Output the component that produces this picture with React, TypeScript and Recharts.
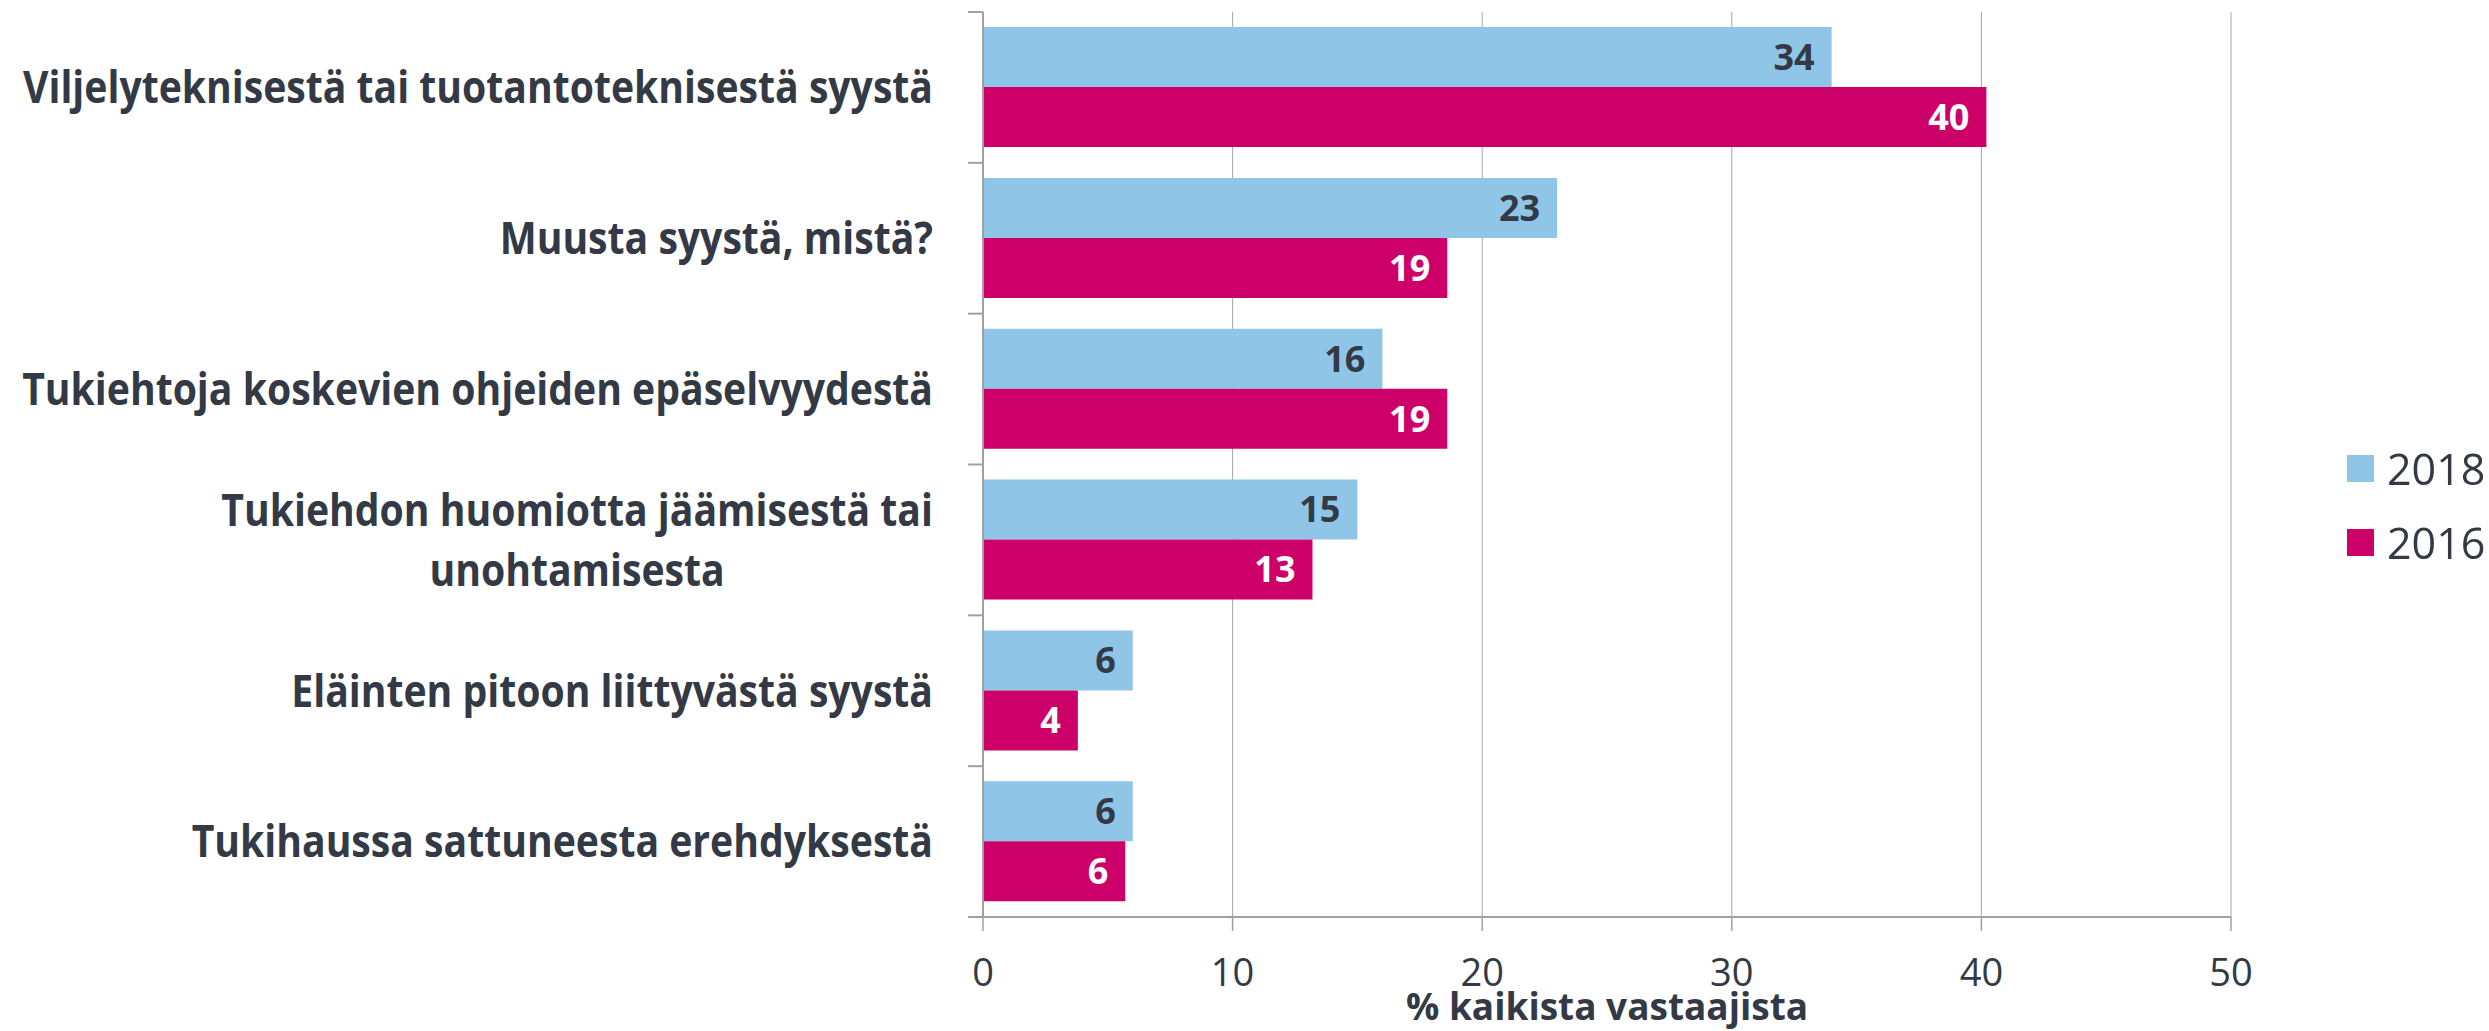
import React from "react";
import {
  Bar,
  BarChart,
  CartesianGrid,
  Label,
  LabelList,
  Legend,
  XAxis,
  YAxis,
} from "recharts";

const categories = [
  "Viljelyteknisestä tai tuotantoteknisestä syystä",
  "Muusta syystä, mistä?",
  "Tukiehtoja koskevien ohjeiden epäselvyydestä",
  "Tukiehdon huomiotta jäämisestä tai\nunohtamisesta",
  "Eläinten pitoon liittyvästä syystä",
  "Tukihaussa sattuneesta erehdyksestä",
];
const values2018 = [34, 23, 16, 15, 6, 6];
const values2016 = [40.2, 18.6, 18.6, 13.2, 3.8, 5.7];
const seriesNames = ["2018", "2016"];
const xTicks = [0, 10, 20, 30, 40, 50];
const axisTitle = "% kaikista vastaajista";

const W = 2489;
const H = 1031;
const TOP = 12;
const BOTTOM = 917;
const LEFT = 983;
const RIGHT = 2231;
const BAND = (BOTTOM - TOP) / categories.length;

const FONT = "'Open Sans', sans-serif";
const TEXT = "#333a45";
const AXIS = "#a0a0a0";
const BLUE = "#8fc6e7";
const MAGENTA = "#cd006a";

const data = categories.map((name, i) => ({
  name,
  v2018: values2018[i],
  v2016: values2016[i],
}));

let ctx: CanvasRenderingContext2D | null = null;
const measure = (s: string, font: string) => {
  if (!ctx) ctx = document.createElement("canvas").getContext("2d");
  if (!ctx) return s.length * 20;
  ctx.font = font;
  return ctx.measureText(s).width;
};

// kategorian nimi oikealle tasattuna, rivitetyt rivit keskitetään keskenään
// alkuperäisen fontti on kapeampi, joten teksti puristetaan vaakasuunnassa
const CategoryTick = (props: any) => {
  const { x, y, payload, index } = props;
  const lines: string[] = String(payload.value).split("\n");
  const fontSize = 44;
  const sx = 0.89;
  const font = `bold ${fontSize}px 'Open Sans'`;
  const widest = Math.max(...lines.map((l) => measure(l, font)));
  const lh = 60;
  const axisX = x + 35 + 15;
  const multi = lines.length > 1;
  return (
    <g>
      <line x1={axisX - 15} x2={axisX} y1={y - BAND / 2} y2={y - BAND / 2} stroke={AXIS} strokeWidth={2} />
      {index === categories.length - 1 && (
        <line x1={axisX - 15} x2={axisX} y1={y + BAND / 2} y2={y + BAND / 2} stroke={AXIS} strokeWidth={2} />
      )}
      <g transform={`translate(${x},0) scale(${sx},1)`}>
        {lines.map((l, i) => (
          <text
            key={i}
            x={multi ? -widest / 2 : 0}
            y={y + (i - (lines.length - 1) / 2) * lh}
            dy="0.36em"
            textAnchor={multi ? "middle" : "end"}
            fill={TEXT}
            fontSize={fontSize}
            fontWeight="bold"
            fontFamily={FONT}
          >
            {l}
          </text>
        ))}
      </g>
    </g>
  );
};

const AxisTitle = (props: any) => {
  const vb = props.viewBox;
  return (
    <text
      x={vb.x + vb.width / 2}
      y={vb.y + vb.height - 11}
      textAnchor="middle"
      fill={TEXT}
      fontSize={37}
      fontWeight="bold"
      fontFamily={FONT}
    >
      {axisTitle}
    </text>
  );
};

const LegendContent = (props: any) => {
  const items = [...(props.payload || [])].sort(
    (a: any, b: any) => seriesNames.indexOf(a.value) - seriesNames.indexOf(b.value)
  );
  return (
    <div>
      {items.map((p: any) => (
        <div key={p.value} style={{ display: "flex", alignItems: "center", height: 74 }}>
          <div style={{ width: 27, height: 27, background: p.color, marginRight: 13 }} />
          <span style={{ fontFamily: FONT, fontSize: 43, lineHeight: 1, color: TEXT }}>{p.value}</span>
        </div>
      ))}
    </div>
  );
};

export default function App() {
  return (
    <div style={{ position: "fixed", left: 0, top: 0, width: W, height: H, background: "#fff" }}>
      <BarChart
        layout="vertical"
        width={W}
        height={H}
        data={data}
        margin={{ top: TOP, right: W - RIGHT, bottom: 0, left: 0 }}
        barCategoryGap="10%"
        barGap={0}
      >
        <CartesianGrid horizontal={false} stroke="#a6a6a6" strokeWidth={1} />
        <XAxis
          type="number"
          domain={[0, 50]}
          ticks={xTicks}
          interval={0}
          height={H - BOTTOM}
          tickSize={14}
          tickMargin={28}
          axisLine={{ stroke: AXIS, strokeWidth: 2 }}
          tickLine={{ stroke: AXIS, strokeWidth: 1.5 }}
          tick={{ fill: TEXT, fontSize: 38, fontFamily: FONT }}
        >
          <Label content={AxisTitle} />
        </XAxis>
        <YAxis
          type="category"
          dataKey="name"
          width={LEFT}
          interval={0}
          tickSize={15}
          tickMargin={35}
          tickLine={false}
          axisLine={{ stroke: AXIS, strokeWidth: 2 }}
          tick={<CategoryTick />}
        />
        <Legend
          layout="vertical"
          align="center"
          verticalAlign="middle"
          wrapperStyle={{ left: 2347, top: 431, width: 160 }}
          content={<LegendContent />}
        />
        <Bar dataKey="v2018" name={seriesNames[0]} fill={BLUE} isAnimationActive={false}>
          <LabelList
            dataKey="v2018"
            position="insideRight"
            offset={17}
            formatter={(v: any) => Math.round(v)}
            fill={TEXT}
            fontSize={36}
            fontWeight="bold"
            fontFamily={FONT}
          />
        </Bar>
        <Bar dataKey="v2016" name={seriesNames[1]} fill={MAGENTA} isAnimationActive={false}>
          <LabelList
            dataKey="v2016"
            position="insideRight"
            offset={17}
            formatter={(v: any) => Math.round(v)}
            fill="#ffffff"
            fontSize={36}
            fontWeight="bold"
            fontFamily={FONT}
          />
        </Bar>
      </BarChart>
    </div>
  );
}
